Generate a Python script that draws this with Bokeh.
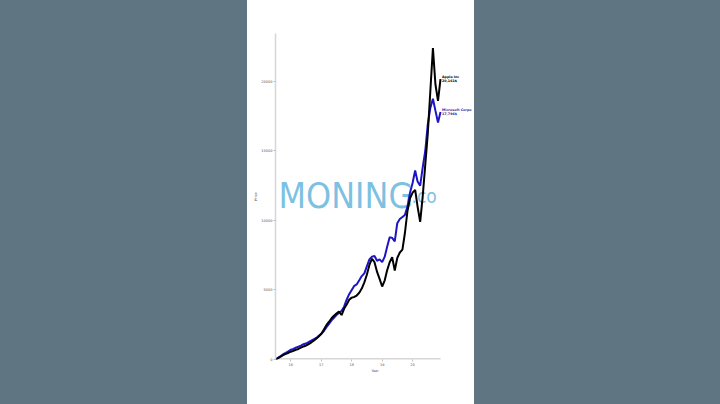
import pandas as pd
from bokeh.plotting import figure
from bokeh.models import Range1d, FixedTicker, DatetimeTickFormatter, Label
from bokeh.embed import file_html
from bokeh.resources import INLINE

# ---- data (monthly, month start) ----
months = [
    "2015-07", "2015-08", "2015-09", "2015-10", "2015-11", "2015-12",
    "2016-01", "2016-02", "2016-03", "2016-04", "2016-05", "2016-06",
    "2016-07", "2016-08", "2016-09", "2016-10", "2016-11", "2016-12",
    "2017-01", "2017-02", "2017-03", "2017-04", "2017-05", "2017-06",
    "2017-07", "2017-08", "2017-09", "2017-10", "2017-11", "2017-12",
    "2018-01", "2018-02", "2018-03", "2018-04", "2018-05", "2018-06",
    "2018-07", "2018-08", "2018-09", "2018-10", "2018-11", "2018-12",
    "2019-01", "2019-02", "2019-03", "2019-04", "2019-05", "2019-06",
    "2019-07", "2019-08", "2019-09", "2019-10", "2019-11", "2019-12",
    "2020-01", "2020-02", "2020-03", "2020-04", "2020-05", "2020-06",
    "2020-07", "2020-08", "2020-09", "2020-10", "2020-11", "2020-12",
]

apple = [
    0, 100, 200, 310, 400, 470, 560, 620, 700, 760, 850, 940,
    1000, 1100, 1220, 1350, 1500, 1650, 1850, 2150, 2450, 2700, 2950, 3150,
    3300, 3450, 3200, 3650, 3950, 4300, 4450, 4500, 4600, 4800, 5100, 5550,
    6100, 6800, 7250, 7000, 6300, 5800, 5250, 5700, 6400, 7000, 7360, 6400,
    7300, 7700, 7900, 9100, 10700, 11600, 12000, 12200, 11000, 9900, 11700, 14000,
    16200, 19300, 22400, 19800, 18600, 20161,
]

msft = [
    0, 120, 250, 380, 480, 580, 700, 760, 850, 920, 1000, 1100,
    1150, 1250, 1350, 1450, 1550, 1700, 1850, 2050, 2300, 2550, 2800, 3000,
    3200, 3350, 3500, 3800, 4300, 4700, 5000, 5300, 5400, 5700, 6000, 6200,
    6700, 7200, 7400, 7450, 7100, 7200, 7000, 7400, 8100, 8800, 8750, 8500,
    9800, 10100, 10250, 10400, 11000, 12000, 12700, 13600, 12800, 12500, 13800, 15000,
    16900, 18100, 18760, 17900, 17050, 17796,
]

apple_name = "Apple Inc"
msft_name = "Microsoft Corpo"
apple_end_label = "20,161$"
msft_end_label = "17,796$"

year_ticks = [2016, 2017, 2018, 2019, 2020]
y_ticks = [0, 5000, 10000, 15000, 20000]

# ---- geometry ----
FIG_W, FIG_H = 227, 404
B_LEFT, B_TOP, B_BOTTOM = 28, 33, 45
FRAME_W = FIG_W - B_LEFT            # frame runs to the right edge
FRAME_H = FIG_H - B_TOP - B_BOTTOM
DATA_W = 165                        # pixels used by the data / axis line
Y_MAX = 23450

dates = pd.to_datetime(months)
t0 = dates[0].timestamp() * 1000
t1 = dates[-1].timestamp() * 1000
x_end = t0 + (t1 - t0) * FRAME_W / DATA_W
x_ticks = [pd.Timestamp(f"{y}-01-01").timestamp() * 1000 for y in year_ticks]


def frame_px(px, py):
    """frame-relative pixel (from top-left of frame) -> data coords (watermark only)"""
    return t0 + (x_end - t0) * px / FRAME_W, Y_MAX * (1 - py / FRAME_H)


p = figure(
    width=FIG_W, height=FIG_H,
    output_backend="svg", toolbar_location=None,
    x_axis_type="datetime",
    x_range=Range1d(t0, x_end),
    y_range=Range1d(0, Y_MAX),
    min_border_left=B_LEFT, min_border_right=0,
    min_border_top=B_TOP, min_border_bottom=B_BOTTOM,
    outline_line_color=None,
)
p.margin = (0, 0, 0, 247)
p.styles = {"background-color": "white"}
p.xgrid.visible = False
p.ygrid.visible = False
p.background_fill_color = "white"
p.border_fill_color = "white"

for ax in (p.xaxis[0], p.yaxis[0]):
    ax.axis_line_color = "#d6d6d6"
    ax.axis_line_width = 1.5
    ax.major_tick_line_color = "#9a9a9a"
    ax.major_tick_line_width = 0.6
    ax.major_tick_out = 2
    ax.major_tick_in = 0
    ax.minor_tick_line_color = None
    ax.major_label_text_font = "DejaVu Sans"
    ax.major_label_text_font_size = "3.5px"
    ax.major_label_text_color = "#555555"
    ax.major_label_standoff = 1
    ax.axis_label_text_font = "DejaVu Sans"
    ax.axis_label_text_font_size = "3.4px"
    ax.axis_label_text_font_style = "normal"
    ax.axis_label_text_color = "#444444"
    ax.axis_label_standoff = 0

# x axis line only under the data span
p.xaxis[0].axis_line_color = None
p.segment(x0=[t0], y0=[0], x1=[t1], y1=[0], line_color="#d6d6d6", line_width=3)

p.xaxis[0].ticker = FixedTicker(ticks=x_ticks)
p.xaxis[0].formatter = DatetimeTickFormatter(
    years="%y", months="%y", days="%y", hours="%y", minutes="%y",
    seconds="%y", milliseconds="%y", microseconds="%y", hourmin="%y", minsec="%y",
)
p.yaxis[0].ticker = FixedTicker(ticks=y_ticks)
p.xaxis[0].axis_label = "Year"
p.yaxis[0].axis_label = "Price"

# watermark (behind the lines)
wx, wy = frame_px(3.0, 162)
cx, cy = frame_px(136.0, 162)
p.add_layout(Label(x=wx, y=wy, text="MONING", level="underlay",
                   text_font="DejaVu Sans Condensed, Roboto", text_font_size="35.5px",
                   text_color="#74bde0", text_alpha=0.95, text_baseline="alphabetic"))
p.add_layout(Label(x=cx, y=cy, text=".co", level="underlay",
                   text_font="DejaVu Sans Condensed, Roboto", text_font_size="19px",
                   text_color="#74bde0", text_alpha=0.95, text_baseline="alphabetic"))

p.line(dates, msft, line_color="#1d14c8", line_width=2)
p.line(dates, apple, line_color="black", line_width=2)

for name, endlab, yv, col in (
    (apple_name, apple_end_label, apple[-1], "black"),
    (msft_name, msft_end_label, msft[-1], "#2a1c9c"),
):
    p.add_layout(Label(x=t1, y=yv, x_offset=1.5, y_offset=0.6, text=name, text_baseline="bottom",
                       text_font="DejaVu Sans", text_font_size="3.3px",
                       text_font_style="bold", text_color=col))
    p.add_layout(Label(x=t1, y=yv, x_offset=1.5, y_offset=0.0, text=endlab, text_baseline="top",
                       text_font="DejaVu Sans", text_font_size="3.3px",
                       text_font_style="bold", text_color=col))

html = file_html(p, INLINE, title="Apple vs Microsoft")
html = html.replace(
    "</head>",
    "<style>html,body{margin:0;padding:0;background:#5f7682;overflow:hidden;}</style></head>",
    1,
)
open("out.html", "w").write(html)
